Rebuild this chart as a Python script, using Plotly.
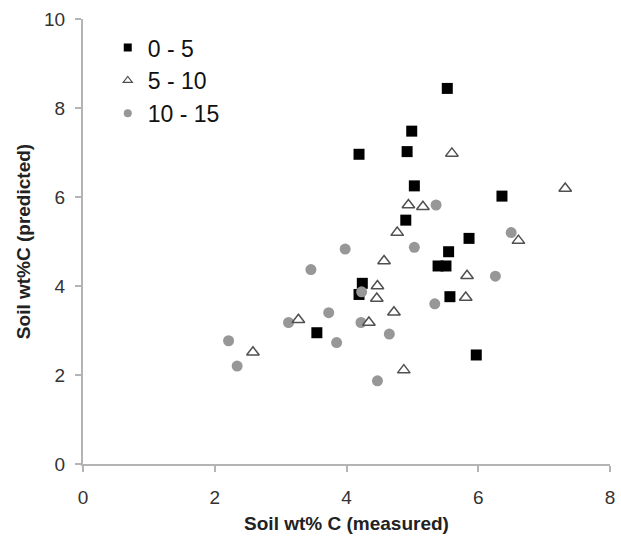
import plotly.graph_objects as go

# Series: depth class 0 - 5
depth_0_5_measured = [5.53, 4.99, 4.19, 4.92, 5.03, 6.36, 4.90, 5.86, 5.55, 5.39, 5.51, 5.57, 4.24, 4.19, 3.55, 5.97]
depth_0_5_predicted = [8.44, 7.48, 6.96, 7.02, 6.25, 6.02, 5.48, 5.07, 4.77, 4.45, 4.45, 3.76, 4.06, 3.81, 2.95, 2.45]

# Series: depth class 5 - 10
depth_5_10_measured = [5.60, 7.32, 4.94, 5.16, 4.77, 6.61, 4.57, 4.47, 4.46, 5.83, 5.81, 4.72, 4.34, 3.27, 2.58, 4.87]
depth_5_10_predicted = [6.98, 6.19, 5.82, 5.78, 5.20, 5.02, 4.56, 4.00, 3.72, 4.23, 3.74, 3.41, 3.18, 3.24, 2.51, 2.11]

# Series: depth class 10 - 15
depth_10_15_measured = [5.36, 6.50, 5.03, 3.98, 3.46, 4.23, 6.26, 5.34, 3.73, 3.12, 4.22, 4.65, 3.85, 2.21, 2.34, 4.47]
depth_10_15_predicted = [5.82, 5.20, 4.87, 4.83, 4.37, 3.87, 4.22, 3.60, 3.40, 3.18, 3.18, 2.92, 2.73, 2.77, 2.20, 1.87]

series_names = ["0 - 5", "5 - 10", "10 - 15"]
x_ticks = [0, 2, 4, 6, 8]
y_ticks = [0, 2, 4, 6, 8, 10]

FONT = "Liberation Sans, Arial, sans-serif"
AXIS_COLOR = "#b4b4b4"

styles = {
    "0 - 5": dict(symbol="square", color="#000000", line=dict(width=0)),
    "5 - 10": dict(symbol="triangle-up", color="#ffffff", line=dict(width=1.5, color="#505050")),
    "10 - 15": dict(symbol="circle", color="#979797", line=dict(width=0)),
}

fig = go.Figure()

# data traces (drawing order: squares, circles, triangles on top)
for name, xs, ys in [
    (series_names[0], depth_0_5_measured, depth_0_5_predicted),
    (series_names[2], depth_10_15_measured, depth_10_15_predicted),
    (series_names[1], depth_5_10_measured, depth_5_10_predicted),
]:
    fig.add_trace(go.Scatter(
        x=xs, y=ys, mode="markers", name=name, showlegend=False, legendgroup=name,
        marker=dict(size=11, **styles[name]),
    ))

# legend entries with the smaller legend symbols
for rank, name in enumerate(series_names):
    st = dict(styles[name])
    if name == "5 - 10":
        st["line"] = dict(width=1.2, color="#505050")
    fig.add_trace(go.Scatter(
        x=[None], y=[None], mode="markers", name=name, legendgroup=name,
        legendrank=rank + 1, marker=dict(size=8, **st),
    ))

axis_common = dict(
    showgrid=False, zeroline=False, showline=True, linecolor=AXIS_COLOR, linewidth=2,
    ticks="outside", ticklen=6, tickwidth=1.5, tickcolor=AXIS_COLOR,
    tickfont=dict(family=FONT, size=19, color="#333333"),
)

fig.update_layout(
    width=621, height=539,
    margin=dict(l=83, r=6, t=19, b=75),
    paper_bgcolor="white", plot_bgcolor="white",
    showlegend=True,
    legend=dict(
        x=0.047, y=0.984, xanchor="left", yanchor="top",
        font=dict(family=FONT, size=23, color="#111111"),
        bgcolor="rgba(0,0,0,0)", itemwidth=30, tracegroupgap=0,
    ),
    xaxis=dict(
        range=[0, 8], tickvals=x_ticks, ticktext=[str(v) for v in x_ticks],
        ticklabelstandoff=9,
        title=dict(text="<b>Soil wt% C (measured)</b>", font=dict(family=FONT, size=19, color="#222222"), standoff=10),
        **axis_common,
    ),
    yaxis=dict(
        range=[0, 10], tickvals=y_ticks, ticktext=[str(v) for v in y_ticks],
        ticklabelstandoff=6,
        title=dict(text="<b>Soil wt%C (predicted)</b>", font=dict(family=FONT, size=19, color="#222222"), standoff=8),
        **axis_common,
    ),
)

fig.write_html(
    "out.html",
    config={"displayModeBar": False},
    post_script="document.body.style.margin='0';document.body.style.overflow='hidden';",
)
